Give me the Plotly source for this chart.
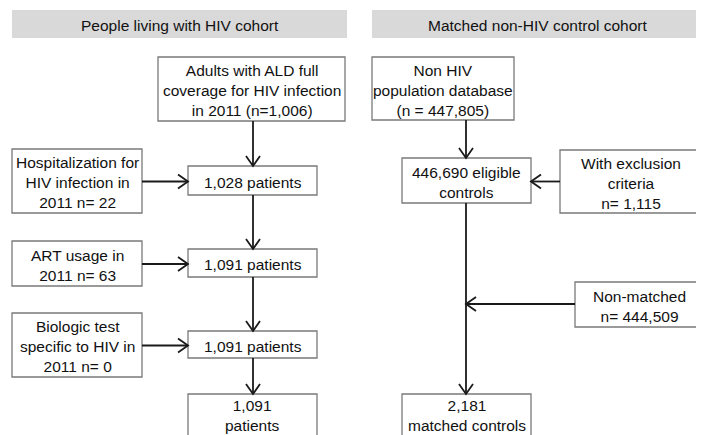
import plotly.graph_objects as go

# ---------------- data (text content) ----------------
headers = ["People living with HIV cohort", "Matched non-HIV control cohort"]
hiv_main = [
    "Adults with ALD full<br>coverage for HIV infection<br>in 2011 (n=1,006)",
    "1,028 patients",
    "1,091 patients",
    "1,091 patients",
    "1,091<br>patients",
]
hiv_side = [
    "Hospitalization for<br>HIV infection in<br>2011 n= 22",
    "ART usage in<br>2011 n= 63",
    "Biologic test<br>specific to HIV in<br>2011 n= 0",
]
ctrl_main = [
    "Non HIV<br>population database<br>(n = 447,805)",
    "446,690 eligible<br>controls",
    "2,181<br>matched controls",
]
ctrl_side = [
    "With exclusion<br>criteria<br>n= 1,115",
    "Non-matched<br>n= 444,509",
]

# ---------------- layout geometry (x0, y0, x1, y1) in page pixels ----------------
W, H = 704, 435
PAGE_MARGIN = 8  # default body margin of the html page
header_geo = [(12, 10, 347, 38), (372, 10, 704, 38)]
hiv_main_geo = [(158, 57, 345, 121), (188, 166, 317, 195), (188, 249, 317, 277),
                (188, 331, 317, 358), (188, 394, 317, 442)]
hiv_side_geo = [(12, 149, 142, 213), (12, 241, 142, 286), (12, 313, 142, 377)]
ctrl_main_geo = [(372, 57, 514, 120), (402, 158, 531, 203), (402, 394, 531, 442)]
ctrl_side_geo = [(560, 150, 702, 213), (575, 282, 703, 327)]

HIV_X = 253
CTRL_X = 466
NONMATCH_Y = 304
TEXT_DY = 1.5

BOX_LINE = dict(color="#7a7a7a", width=1.3)
ARROW_COLOR = "#1a1a1a"
ARROW_W = 1.8
FONT = dict(family="Liberation Sans, Arial, sans-serif", size=15.5, color="#111111")

fig = go.Figure()
shapes = []
annotations = []


def add_box(geo, text, fill="white", line=BOX_LINE, dy=TEXT_DY):
    x0, y0, x1, y1 = geo
    shapes.append(dict(type="rect", x0=x0, y0=y0, x1=x1, y1=y1,
                       line=line, fillcolor=fill, layer="above"))
    annotations.append(dict(x=(x0 + x1) / 2, y=(y0 + y1) / 2 + dy, text=text,
                            showarrow=False, font=FONT, xanchor="center",
                            yanchor="middle", align="center"))


def add_arrow(x0, y0, x1, y1):
    shapes.append(dict(type="line", x0=x0, y0=y0, x1=x1, y1=y1,
                       line=dict(color=ARROW_COLOR, width=ARROW_W)))
    dx, dy = x1 - x0, y1 - y0
    L = (dx * dx + dy * dy) ** 0.5
    ux, uy = dx / L, dy / L
    px, py = -uy, ux
    hl, hw = 10, 7
    ax, ay = x1 - ux * hl + px * hw, y1 - uy * hl + py * hw
    bx, by = x1 - ux * hl - px * hw, y1 - uy * hl - py * hw
    shapes.append(dict(type="path",
                       path=f"M {ax},{ay} L {x1},{y1} L {bx},{by}",
                       line=dict(color=ARROW_COLOR, width=ARROW_W)))


# headers
for geo, txt in zip(header_geo, headers):
    add_box(geo, txt, fill="#d9d9d9", line=dict(width=0), dy=1)

# HIV column boxes
for i, (geo, txt) in enumerate(zip(hiv_main_geo, hiv_main)):
    add_box(geo, txt, dy=-3 if i == len(hiv_main_geo) - 1 else TEXT_DY)
for geo, txt in zip(hiv_side_geo, hiv_side):
    add_box(geo, txt)

# control column boxes
for i, (geo, txt) in enumerate(zip(ctrl_main_geo, ctrl_main)):
    add_box(geo, txt, dy=-3 if i == len(ctrl_main_geo) - 1 else TEXT_DY)
for geo, txt in zip(ctrl_side_geo, ctrl_side):
    add_box(geo, txt)

# HIV vertical arrows
for a, b in zip(hiv_main_geo[:-1], hiv_main_geo[1:]):
    add_arrow(HIV_X, a[3], HIV_X, b[1])
# HIV horizontal arrows side -> main
for s, m in zip(hiv_side_geo, hiv_main_geo[1:4]):
    y = (m[1] + m[3]) / 2 + 1
    add_arrow(s[2], y, m[0], y)

# control verticals
add_arrow(CTRL_X, ctrl_main_geo[0][3], CTRL_X, ctrl_main_geo[1][1])
add_arrow(CTRL_X, ctrl_main_geo[1][3], CTRL_X, ctrl_main_geo[2][1])
ey = (ctrl_main_geo[1][1] + ctrl_main_geo[1][3]) / 2 + 1
add_arrow(ctrl_side_geo[0][0], ey, ctrl_main_geo[1][2], ey)
add_arrow(ctrl_side_geo[1][0], NONMATCH_Y, CTRL_X, NONMATCH_Y)

fig.update_layout(
    width=W - PAGE_MARGIN, height=H - PAGE_MARGIN,
    margin=dict(l=0, r=0, t=0, b=0),
    paper_bgcolor="white", plot_bgcolor="white",
    xaxis=dict(range=[PAGE_MARGIN, W], visible=False, fixedrange=True),
    yaxis=dict(range=[H, PAGE_MARGIN], visible=False, fixedrange=True),
    shapes=shapes, annotations=annotations,
    showlegend=False,
)

fig.write_html("out.html")
